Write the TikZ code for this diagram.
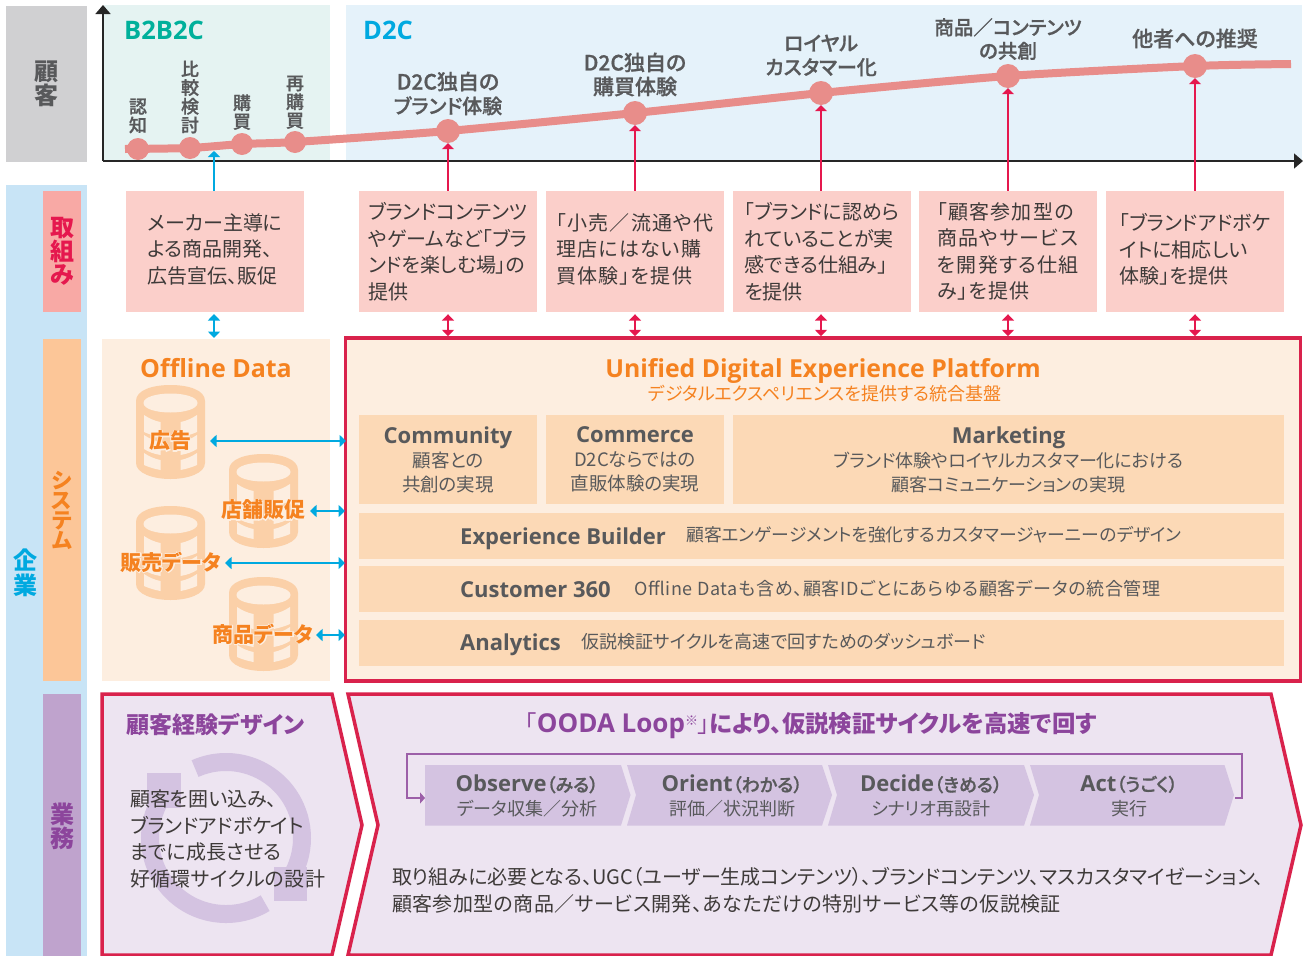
\documentclass[tikz,border=0pt]{standalone}
\usepackage{fontspec}
\usetikzlibrary{arrows.meta}
\setmainfont{Noto Sans CJK JP}[RawFeature=+palt]
\newfontfamily\latinfont{Open Sans}
\newfontfamily\halofont[FakeBold=8,RawFeature=+palt]{Noto Sans CJK JP Bold}
\newfontfamily\medfont[FakeBold=0.9,RawFeature=+palt]{Noto Sans CJK JP Medium}
\newfontfamily\cardwide[LetterSpace=6,RawFeature=+palt]{Noto Sans CJK JP}
\newfontfamily\midwide[LetterSpace=3.5,RawFeature=+palt]{Noto Sans CJK JP}
\newfontfamily\slightwide[LetterSpace=2,RawFeature=+palt]{Noto Sans CJK JP}
\definecolor{greybox}{HTML}{D0D0D2}
\definecolor{panelteal}{HTML}{E5F3F2}
\definecolor{panelblue}{HTML}{E5F2FA}
\definecolor{sideblue}{HTML}{C8E4F6}
\definecolor{sidepink}{HTML}{F8A9A5}
\definecolor{sideorange}{HTML}{FCC698}
\definecolor{sidepurple}{HTML}{BFA3CD}
\definecolor{cardpink}{HTML}{FBCFCA}
\definecolor{panelorange}{HTML}{FDEEE0}
\definecolor{boxorange}{HTML}{FCD9B6}
\definecolor{dbcol}{HTML}{FBD0A8}
\definecolor{crim}{HTML}{D9224C}
\definecolor{arrowred}{HTML}{E5184E}
\definecolor{skyb}{HTML}{00A9E0}
\definecolor{tealt}{HTML}{00B09B}
\definecolor{orng}{HTML}{F58220}
\definecolor{purp}{HTML}{8C459C}
\definecolor{purpline}{HTML}{9C5FA8}
\definecolor{lilac}{HTML}{EDE4F1}
\definecolor{lilac2}{HTML}{D4C3E1}
\definecolor{ink}{HTML}{58595B}
\definecolor{txt}{HTML}{3E3A39}
\definecolor{curvecol}{HTML}{E88D8A}
\newcommand\fs[2]{\fontsize{#1}{#2}\selectfont}
\newcommand\halo[1]{\rlap{\color{panelorange}\halofont #1}#1}
\newcommand\upshift{\rule[-6pt]{0pt}{6pt}}
\newcommand\dbicon[2]{%
 \begin{scope}[shift={(#1,#2)}]
  \fill[dbcol] (-34.5,16) .. controls (-34.5,5) and (-18,0) .. (0,0) .. controls (18,0) and (34.5,5) .. (34.5,16) -- (34.5,78) .. controls (34.5,88) and (18,94) .. (0,94) .. controls (-18,94) and (-34.5,88) .. (-34.5,78) -- cycle;
  \fill[panelorange] (-27,18) .. controls (-27,12) and (-14,8.5) .. (0,8.5) .. controls (14,8.5) and (27,12) .. (27,18) .. controls (27,24) and (14,27.5) .. (0,27.5) .. controls (-14,27.5) and (-27,24) .. (-27,18) -- cycle;
  \foreach \s in {-1,1} {
   \fill[panelorange] (\s*26.5,30) .. controls (\s*22,33) and (\s*16,36) .. (\s*10,37) -- (\s*10,52) .. controls (\s*16,51) and (\s*22,49) .. (\s*26.5,47) -- cycle;
   \fill[panelorange] (\s*26.5,50) .. controls (\s*22,53) and (\s*16,56) .. (\s*10,57) -- (\s*10,70) .. controls (\s*16,69) and (\s*22,67) .. (\s*26.5,64) -- cycle;
   \fill[panelorange] (\s*26.5,68) .. controls (\s*22,71) and (\s*16,74) .. (\s*10,75) -- (\s*10,85) .. controls (\s*16,84) and (\s*22,82) .. (\s*26.5,80) -- cycle;
  }
 \end{scope}}
\tikzset{
 x=1pt,y=-1pt,
 vbox/.style={inner sep=0pt,minimum width=38pt,align=center,font=\bfseries\fs{24}{23.5}},
 card/.style={fill=cardpink,inner sep=0pt,minimum width=178pt,minimum height=121pt,align=left,text=txt,font=\fs{20}{26.5}},
 iobox/.style={fill=boxorange,inner sep=0pt,align=center,text=ink},
 dot/.style={circle,fill=curvecol,inner sep=0pt,minimum size=#1},
 lbl/.style={inner sep=0pt,align=center,text=ink,font=\medfont\fs{21}{24}},
 vlbl/.style={inner sep=0pt,align=center,text=ink,anchor=south,font=\medfont\fs{18}{18.7}},
 redarr/.style={draw=arrowred,line width=2.4pt,-{Triangle[length=6pt,width=12pt]}},
 reddbl/.style={draw=arrowred,line width=2.4pt,{Triangle[length=6.5pt,width=12pt]}-{Triangle[length=6.5pt,width=12pt]}},
 bluearr/.style={draw=skyb,line width=2.4pt,-{Triangle[length=6pt,width=12pt]}},
 bluedbl/.style={draw=skyb,line width=2.4pt,{Triangle[length=6.5pt,width=12pt]}-{Triangle[length=6.5pt,width=12pt]}},
 dblabel/.style={inner sep=0pt,text=orng,font=\bfseries\fs{21}{24}},
 stepfill/.style={fill=lilac2},
 frameshape/.style={draw=crim,line width=3.5pt,fill=lilac,miter limit=10},
 steptext/.style={inner sep=0pt,align=center,text=ink,font=\fs{18}{24}},
 headb/.style={inner sep=0pt,anchor=base west,text=ink,font=\latinfont\bfseries\fs{22}{26}},
 desc/.style={inner sep=0pt,anchor=base west,text=ink},
}
\begin{document}
\begin{tikzpicture}
\useasboundingbox (0,0) rectangle (1310,956);
% top band
\node[fill=greybox,minimum width=81pt,minimum height=156pt,inner sep=0pt,align=center,text=ink,font=\bfseries\fs{24}{23.5}] (guest) at (46.5,84) {顧\\客};
\fill[panelteal] (104,5) rectangle (330,160);
\fill[panelblue] (346,5) rectangle (1302,160);
\coordinate (orig) at (103,161);
\coordinate (ytop) at (103,5);
\coordinate (xend) at (1303,161);
\draw[line width=1.6pt,black!85,-{Triangle[length=9pt,width=15pt]}] (orig) -- (ytop);
\draw[line width=1.6pt,black!85,-{Triangle[length=9pt,width=15pt]}] (orig) -- (xend);
\node[inner sep=0pt,anchor=west,text=tealt,font=\latinfont\bfseries\fs{25.5}{28}] (b2b) at (124,30) {B2B2C};
\node[inner sep=0pt,anchor=west,text=skyb,font=\latinfont\bfseries\fs{25.5}{28}] (d2c) at (363,30) {D2C};
\draw[line width=8pt,curvecol] plot[smooth,tension=.4] coordinates {(125,149) (190,148) (242,144) (295,142) (448,131) (635,113) (821,93) (1008,76) (1195,66) (1291,64)};
\node[dot=22pt] (d1) at (138,149) {};
\node[dot=22pt] (d2) at (190,148) {};
\node[dot=22pt] (d3) at (242,144) {};
\node[dot=22pt] (d4) at (295,142) {};
\node[dot=24pt] (d5) at (448,131) {};
\node[dot=24pt] (d6) at (635,113) {};
\node[dot=24pt] (d7) at (821,93) {};
\node[dot=24pt] (d8) at (1008,76) {};
\node[dot=24pt] (d9) at (1195,66) {};
\node[vlbl] (l1) at (138,133.5) {認\\知};
\node[vlbl] (l2) at (190,133.5) {比\\較\\検\\討};
\node[vlbl] (l3) at (242,130) {購\\買};
\node[vlbl] (l4) at (295,129) {再\\購\\買};
\node[lbl] (l5) at (448,93.5) {D2C独自の\\\fs{20}{24}ブランド体験};
\node[lbl] (l6) at (635,74.5) {D2C独自の\\購買体験};
\node[lbl,font=\medfont\fs{20}{24}] (l7) at (821,55.5) {ロイヤル\\カスタマー化};
\node[lbl,font=\medfont\fs{19.5}{23.5}] (l8) at (1008,39) {商品／コンテンツ\\の共創};
\node[lbl] (l9) at (1195,38.5) {他者への推奨};
% side
\fill[sideblue] (6,185) rectangle (87,956);
\node[inner sep=0pt,align=center,text=skyb,font=\bfseries\fs{24}{25}] (kigyo) at (25,573) {企\\業};
\node[fill=sidepink,minimum height=121pt,text=arrowred,vbox] (s1) at (62,251.5) {取\\組\\み};
\node[fill=sideorange,minimum height=342pt,text=orng,vbox,font=\bfseries\fs{21.5}{20}] (s2) at (62,510) {シ\\ス\\テ\\ム};
\node[fill=sidepurple,minimum height=262pt,text=purp,vbox] (s3) at (62,825) {};
\node[inner sep=0pt,align=center,text=purp,font=\bfseries\fs{24}{24}] (s3t) at (62,826) {業\\務};
% cards
\node[card] (c1) at (215,251.5) {メーカー主導に\\よる商品開発、\\広告宣伝、販促\upshift};
\node[card] (c2) at (448,251.5) {ブランドコンテンツ\\やゲームなど「ブラ\\ンドを楽しむ場」の\\提供};
\node[card,font=\cardwide\fs{20}{26.5}] (c3) at (635,251.5) {「小売／流通や代\\理店にはない購\\買体験」を提供\upshift};
\node[card] (c4) at (822,251.5) {「ブランドに認めら\\れていることが実\\感できる仕組み」\\を提供};
\node[card,font=\cardwide\fs{20}{26.5}] (c5) at (1008,251.5) {「顧客参加型の\\商品やサービス\\を開発する仕組\\み」を提供};
\node[card] (c6) at (1195,251.5) {「ブランドアドボケ\\イトに相応しい\\体験」を提供\upshift};
\coordinate (blueend) at (214,151);
\draw[bluearr] (c1.north -| blueend) -- (blueend);
\draw[redarr] (c2.north) -- (d5.south);
\draw[redarr] (c3.north) -- (d6.south);
\draw[redarr] (c4.north -| d7) -- (d7.south);
\draw[redarr] (c5.north) -- (d8.south);
\draw[redarr] (c6.north) -- (d9.south);
% offline
\node[fill=panelorange,minimum width=228pt,minimum height=342pt,inner sep=0pt] (off) at (216,510) {};
\node[inner sep=0pt,text=orng,font=\latinfont\bfseries\fs{25}{28}] (offt) at (216,368) {Offline Data};
\dbicon{170.5}{385}
\dbicon{263.5}{454}
\dbicon{170.5}{506}
\dbicon{263.5}{577}
\node[dblabel] (db1) at (170,441) {\halo{広告}};
\node[dblabel] (db2) at (263,510) {\halo{店舗販促}};
\node[dblabel] (db3) at (171,562) {\halo{販売データ}};
\node[dblabel] (db4) at (263,634) {\halo{商品データ}};
% platform
\node[draw=crim,line width=3.5pt,fill=panelorange,minimum width=955pt,minimum height=343pt,inner sep=0pt] (plat) at (823,509.5) {};
\node[inner sep=0pt,text=orng,font=\latinfont\bfseries\fs{24.8}{28}] (platt) at (823,371) {Unified Digital Experience Platform};
\node[inner sep=0pt,text=orng,font=\fs{18}{20}] (plats) at (825,394) {デジタルエクスペリエンスを提供する統合基盤};
\draw[bluedbl] (210,441) -- (346,441);
\draw[bluedbl] (310,511) -- (345,511);
\draw[bluedbl] (225,563) -- (345,563);
\draw[bluedbl] (316,635) -- (345,635);
\coordinate (bt) at (214,314);
\coordinate (bb) at (214,338);
\draw[bluedbl] (bt) -- (bb);
\draw[reddbl] ([yshift=-2pt]c2.south) -- (c2.south |- plat.north);
\draw[reddbl] ([yshift=-2pt]c3.south) -- (c3.south |- plat.north);
\draw[reddbl] ([yshift=-2pt]c4.south -| d7) -- (d7 |- plat.north);
\draw[reddbl] ([yshift=-2pt]c5.south) -- (c5.south |- plat.north);
\draw[reddbl] ([yshift=-2pt]c6.south) -- (c6.south |- plat.north);
% inner boxes
\node[iobox,minimum width=178pt,minimum height=89pt,font=\fs{18.5}{24}] (i1) at (448,459.5) {{\latinfont\bfseries\fs{22}{26}Community}\\顧客との\\共創の実現};
\node[iobox,minimum width=178pt,minimum height=89pt,font=\fs{18.5}{24}] (i2) at (635,459.5) {{\latinfont\bfseries\fs{22}{26}Commerce}\\D2Cならではの\\直販体験の実現};
\node[iobox,minimum width=551pt,minimum height=89pt,font=\fs{18}{24}] (i3) at (1008.5,459.5) {{\latinfont\bfseries\fs{22}{26}Marketing}\\ブランド体験やロイヤルカスタマー化における\\顧客コミュニケーションの実現};
\node[iobox,minimum width=925pt,minimum height=46pt] (i4) at (821.5,536) {};
\node[iobox,minimum width=925pt,minimum height=46pt] (i5) at (821.5,589) {};
\node[iobox,minimum width=925pt,minimum height=46pt] (i6) at (821.5,643) {};
\node[headb] (t4) at (460,544) {Experience Builder};
\node[desc,font=\fs{17.8}{22}] (t4b) at (686,541.5) {顧客エンゲージメントを強化するカスタマージャーニーのデザイン};
\node[headb] (t5) at (460,597) {Customer 360};
\node[desc,font=\midwide\fs{18}{22}] (t5b) at (634,595.5) {Offline Dataも含め、顧客IDごとにあらゆる顧客データの統合管理};
\node[headb] (t6) at (460,650) {Analytics};
\node[desc,font=\fs{18}{22}] (t6b) at (581,648.5) {仮説検証サイクルを高速で回すためのダッシュボード};
% bottom left
\draw[frameshape] (102,694) -- (332,694) -- (362,825) -- (332,955) -- (102,955) -- cycle;
\draw[frameshape] (348,694) -- (1271,694) -- (1301,825) -- (1271,955) -- (348,955) -- (378,825) -- cycle;
\draw[lilac2,line width=18pt] (226,838) ++(-114:76) arc[start angle=-114,end angle=41,radius=76];
\draw[lilac2,line width=18pt] (226,838) ++(59:76) arc[start angle=59,end angle=221,radius=76];
\fill[lilac2] (274,867) rectangle (307,901);
\fill[lilac2] (147,773) rectangle (181,808);
\node[inner sep=0pt,anchor=west,text=purp,font=\bfseries\fs{23}{26}] (t7) at (126,725) {顧客経験デザイン};
\node[inner sep=0pt,anchor=west,align=left,text=txt,font=\fs{20}{26.7}] (t8) at (130,839) {顧客を囲い込み、\\ブランドアドボケイト\\までに成長させる\\\slightwide 好循環サイクルの設計};
\node[inner sep=0pt,anchor=west,text=purp,font=\bfseries\fs{23.4}{26}] (t9) at (525,726) {{\mdseries 「}{\latinfont\fs{26}{26}OODA Loop}\raisebox{7pt}{\fs{13}{13}\mdseries ※}{\mdseries 」}により、仮説検証サイクルを高速で回す};
% OODA
\fill[stepfill] (425,765) -- (621,765) -- (630.5,795) -- (621,825.5) -- (425,825.5) -- cycle;
\fill[stepfill] (627,765) -- (822,765) -- (832,795) -- (822,825.5) -- (627,825.5) -- (636,795) -- cycle;
\fill[stepfill] (828,765) -- (1024,765) -- (1034,795) -- (1024,825.5) -- (828,825.5) -- (837,795) -- cycle;
\fill[stepfill] (1030,765) -- (1224.5,765) -- (1234,795) -- (1224.5,825.5) -- (1030,825.5) -- (1039,795) -- cycle;
\coordinate (lps) at (1235,798);
\coordinate (lpe) at (425,798);
\draw[purpline,line width=1.6pt,-{Triangle[length=5pt,width=11pt]}] (lps) -- (1242,798) -- (1242,754) -- (407,754) -- (407,798) -- (lpe);
\node[steptext] (o1) at (527,796) {{\latinfont\bfseries\fs{22}{26}Observe}{\medfont（みる）}\\データ収集／分析};
\node[steptext] (o2) at (732,796) {{\latinfont\bfseries\fs{22}{26}Orient}{\medfont（わかる）}\\評価／状況判断};
\node[steptext] (o3) at (931,796) {{\latinfont\bfseries\fs{22}{26}Decide}{\medfont（きめる）}\\シナリオ再設計};
\node[steptext] (o4) at (1129,796) {{\latinfont\bfseries\fs{22}{26}Act}{\medfont（うごく）}\\実行};
\node[inner sep=0pt,anchor=west,align=left,text=txt,font=\fs{20}{27}] (t10) at (392,890.5) {取り組みに必要となる、UGC（ユーザー生成コンテンツ）、ブランドコンテンツ、マスカスタマイゼーション、\\\slightwide 顧客参加型の商品／サービス開発、あなただけの特別サービス等の仮説検証};
\end{tikzpicture}
\end{document}
